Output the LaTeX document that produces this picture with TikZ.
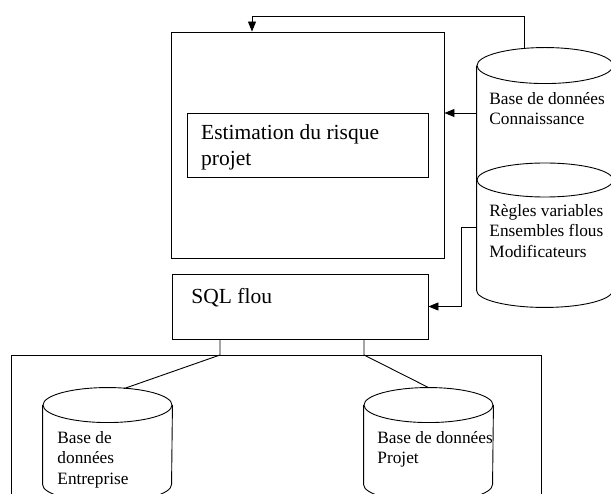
\documentclass[tikz,border=0pt]{standalone}
\usepackage{fontspec}
\setmainfont{Liberation Serif}
\usetikzlibrary{arrows.meta,calc}
\begin{document}
\begin{tikzpicture}[x=1pt,y=-1pt, line width=0.9pt,
  box/.style={draw, rectangle, inner sep=0pt},
  lbl/.style={inner sep=0pt, anchor=north west, align=left, font=\fontsize{21.5}{25.8}\selectfont},
  dblbl/.style={inner sep=0pt, anchor=north west, align=left, font=\fontsize{17.3}{20.5}\selectfont},
  arr/.style={-{Triangle[length=10pt,width=8pt]}},
  cylarea/.style={inner sep=0pt, draw=none, rectangle}]
\clip (0,0) rectangle (611,494);

% boxes
\node[box, minimum width=273pt, minimum height=226pt] (outer) at (307.5,145) {};
\node[box, minimum width=241pt, minimum height=64pt] (est) at (307.5,145) {};
\node[lbl] (esttxt) at (200.7,124.5) {Estimation du risque\\projet};
\node[box, minimum width=256pt, minimum height=65pt] (sql) at (300,306.5) {};
\node[lbl] (sqltxt) at (191,288.2) {SQL flou};
\node[box, minimum width=530pt, minimum height=170pt] (store) at (276,440) {};

% knowledge cylinder
\node[cylarea, minimum width=136pt, minimum height=259pt] (kb) at (545,177.5) {};
\draw ($(kb.north)+(0,18)$) ellipse [x radius=68pt, y radius=18pt];
\coordinate (kbmid) at (545,180);
\draw (kbmid) ellipse [x radius=68pt, y radius=17pt];
\draw ($(kb.north west)+(0,18)$) -- ($(kb.south west)+(0,-17)$)
  arc[start angle=180, end angle=360, x radius=68pt, y radius=17pt]
  -- ($(kb.north east)+(0,18)$);
\node[dblbl] (kbtxt) at (489,92) {Base de données\\Connaissance};
\node[dblbl] (rgtxt) at (489,204) {Règles variables\\Ensembles flous\\Modificateurs};

% enterprise cylinder
\node[cylarea, minimum width=129pt, minimum height=113.5pt] (ent) at (107.5,444.75) {};
\draw ($(ent.north)+(0,17.5)$) ellipse [x radius=64.5pt, y radius=17.5pt];
\draw ($(ent.north west)+(0,17.5)$) -- ($(ent.south west)+(0,-17.5)$)
  arc[start angle=180, end angle=360, x radius=64.5pt, y radius=17.5pt]
  -- ($(ent.north east)+(0,17.5)$);
\node[dblbl] (enttxt) at (57,431) {Base de\\données\\Entreprise};

% project cylinder
\node[cylarea, minimum width=129pt, minimum height=113.5pt] (prj) at (428.5,444.75) {};
\draw ($(prj.north)+(0,17.5)$) ellipse [x radius=64.5pt, y radius=17.5pt];
\draw ($(prj.north west)+(0,17.5)$) -- ($(prj.south west)+(0,-17.5)$)
  arc[start angle=180, end angle=360, x radius=64.5pt, y radius=17.5pt]
  -- ($(prj.north east)+(0,17.5)$);
\node[dblbl] (prjtxt) at (377,431) {Base de données\\Projet};

% connectors
\coordinate (t1) at (524,16);
\coordinate (t2) at (252,16);
\coordinate (t0) at (524,48.9);
\draw[arr] (t0) -- (t1) -- (t2) -- (t2 |- outer.north);
\coordinate (a1) at (0,113);
\draw[arr] (kb.west |- a1) -- (outer.east |- a1);
\coordinate (a2) at (461,227);
\draw[arr] (kb.west |- a2) -- (a2) |- (sql.east);

\coordinate (j1) at (220,355);
\coordinate (j2) at (364,355);
\coordinate (e1) at (124,388.6);
\draw (sql.south -| j1) -- (j1) -- (e1);
\draw (sql.south -| j2) -- (j2) -- (prj.north);
\end{tikzpicture}
\end{document}
